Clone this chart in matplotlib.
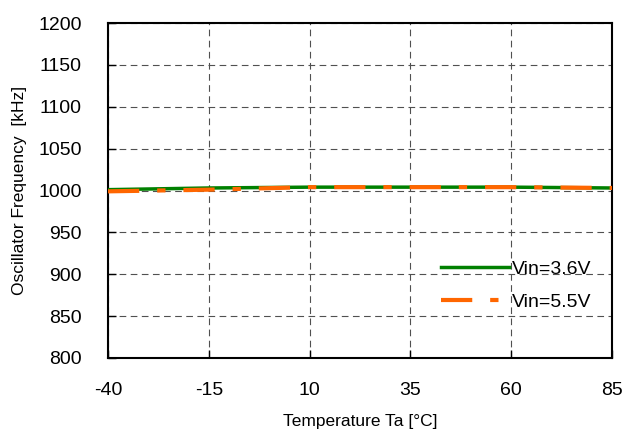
import matplotlib
matplotlib.use("Agg")
import matplotlib.pyplot as plt

temps = [-40, -15, 10, 35, 60, 85]
vin36 = [1001, 1003, 1004, 1004, 1004, 1003]
vin55 = [999, 1001, 1004, 1004, 1004, 1003]
xticks = [-40, -15, 10, 35, 60, 85]
xticklabels = ['-40', '-15', '10', '35', '60', '85']
yticks = [800, 850, 900, 950, 1000, 1050, 1100, 1150, 1200]

plt.rcParams['font.family'] = ['Liberation Sans', 'DejaVu Sans']
plt.rcParams['axes.unicode_minus'] = False

fig = plt.figure(figsize=(6.29, 4.32), dpi=100)
ax = fig.add_axes([108/629, 1-358/432, 504/629, 335/432])

ax.plot(temps, vin36, color='#008000', lw=2.5, label='Vin=3.6V', zorder=3)
ax.plot(temps, vin55, color='#FF6600', lw=3, dashes=(7.5, 4.3, 2, 4.3), label='Vin=5.5V', zorder=4)

ax.set_xlim(-40, 85)
ax.set_ylim(800, 1200)
ax.set_xticks(xticks)
ax.set_xticklabels(xticklabels)
ax.set_yticks(yticks)
ax.grid(True, color='#505050', linestyle=(0, (6, 4)), lw=0.8)
ax.tick_params(direction='in', length=6, labelsize=14, width=1)
ax.tick_params(axis='x', pad=17)
ax.tick_params(axis='y', pad=19)
for s in ax.spines.values():
    s.set_linewidth(1.5)

ax.set_xlabel('Temperature Ta [°C]', fontsize=12.5, labelpad=11)
ax.set_ylabel('Oscillator Frequency  [kHz]', fontsize=12.5, labelpad=8)

leg = ax.legend(loc='lower left', bbox_to_anchor=(0.625, 0.088), frameon=False,
                fontsize=14, handlelength=3.5, handletextpad=0.15, labelspacing=0.8)

fig.savefig('out.png', dpi=100)
